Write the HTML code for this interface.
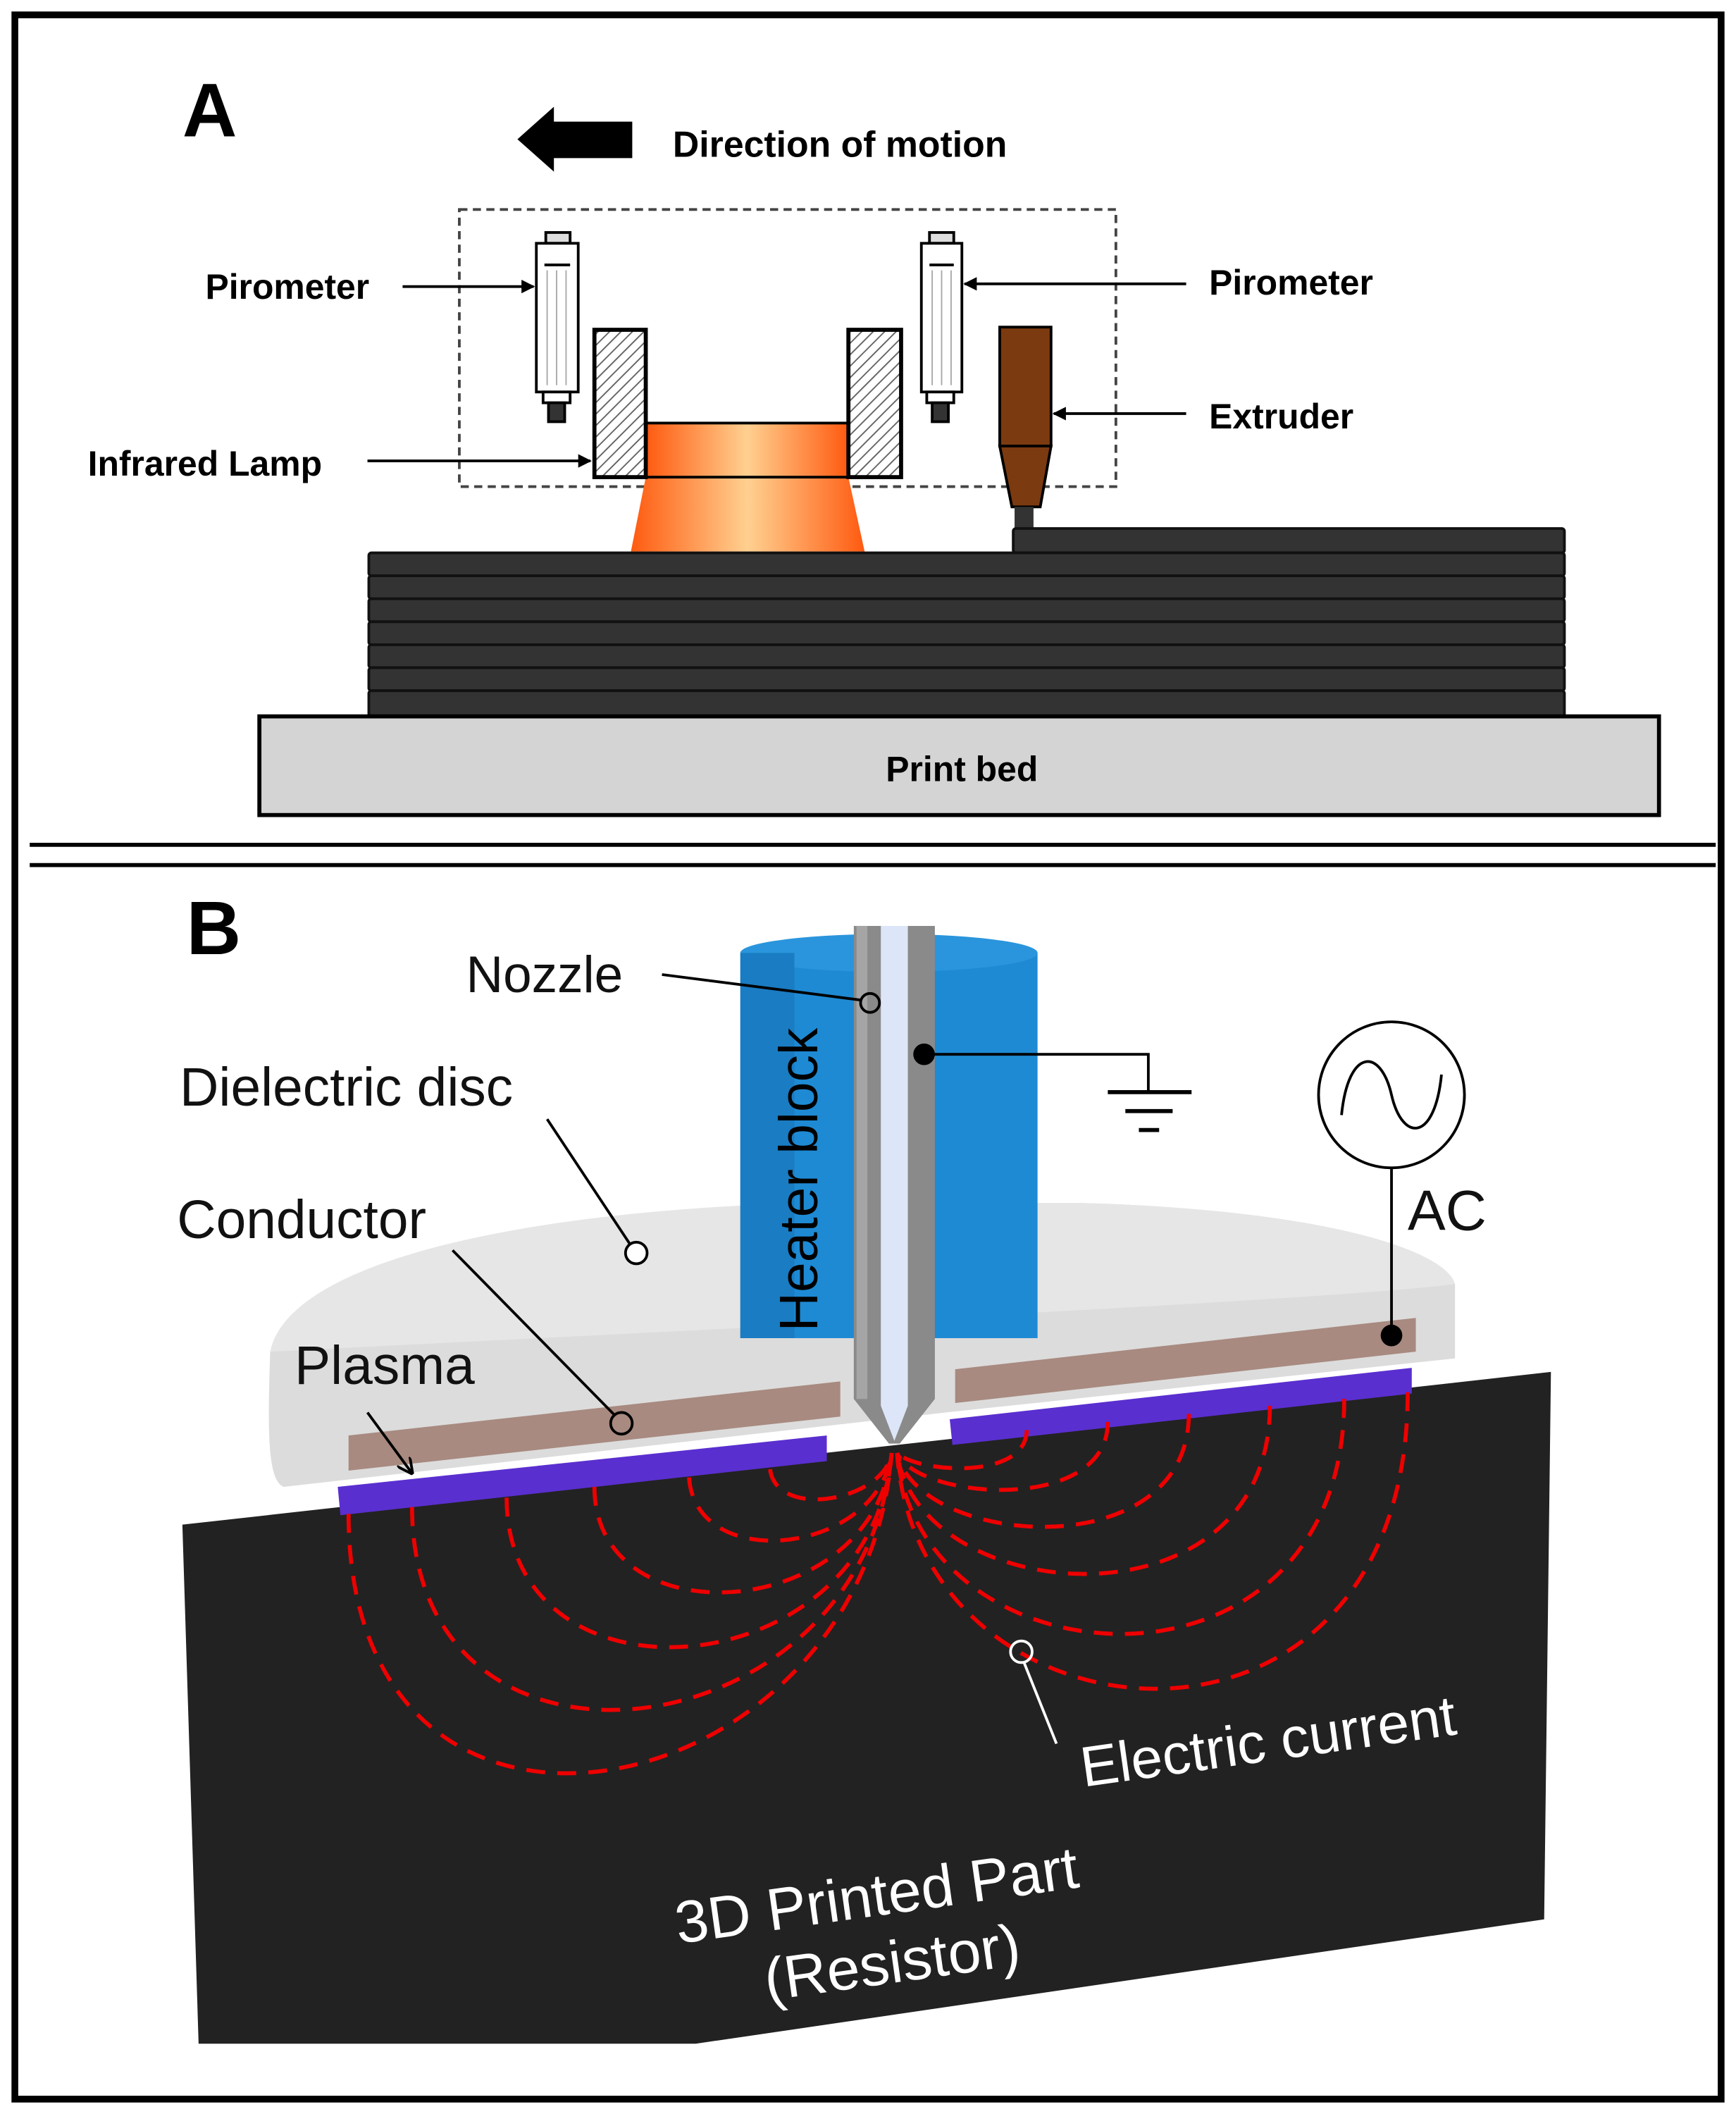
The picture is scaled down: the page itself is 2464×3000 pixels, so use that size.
<!DOCTYPE html>
<html><head><style>
html,body{margin:0;padding:0;background:#fff;}
svg{display:block;}
.a{font-family:"Liberation Sans",sans-serif;font-weight:bold;fill:#000;}
.b{font-family:"Liberation Sans",sans-serif;fill:#111;}
.w{font-family:"Liberation Sans",sans-serif;fill:#fff;}
</style></head><body>
<svg width="2464" height="3000" viewBox="0 0 1285 1564" preserveAspectRatio="none" xmlns="http://www.w3.org/2000/svg">
<defs>
<pattern id="hatch" width="6" height="6" patternUnits="userSpaceOnUse" patternTransform="rotate(45)">
<rect width="6" height="6" fill="#fff"/><line x1="0" y1="0" x2="0" y2="6" stroke="#666" stroke-width="2"/></pattern>
<linearGradient id="og" x1="0" x2="1"><stop offset="0" stop-color="#ff5a10"/><stop offset="0.5" stop-color="#ffd090"/><stop offset="1" stop-color="#ff5a10"/></linearGradient>
<marker id="ah" markerWidth="10" markerHeight="10" refX="9" refY="5" orient="auto" markerUnits="userSpaceOnUse"><path d="M0,0 L10,5 L0,10 Z" fill="#000"/></marker>
<marker id="ah2" markerWidth="12" markerHeight="12" refX="11" refY="6" orient="auto" markerUnits="userSpaceOnUse"><path d="M0,0 L12,6 L0,12" fill="none" stroke="#000" stroke-width="2"/></marker>
</defs>
<rect width="1285" height="1564" fill="#fff"/>
<rect x="11" y="11" width="1263" height="1542" fill="none" stroke="#000" stroke-width="5"/>
<line x1="22" y1="625" x2="1270" y2="625" stroke="#000" stroke-width="3"/>
<line x1="22" y1="640" x2="1270" y2="640" stroke="#000" stroke-width="3"/>

<!-- Part A -->
<text class="a" x="135" y="101" font-size="56">A</text>
<polygon points="383,103 410,79 410,90 468,90 468,117 410,117 410,127" fill="#000"/>
<text class="a" x="498" y="116" font-size="27">Direction of motion</text>
<rect x="340" y="155" width="486" height="205" fill="none" stroke="#444" stroke-width="2" stroke-dasharray="6,4"/>
<g stroke="#000" stroke-width="2">
<rect x="404" y="172" width="18" height="8" fill="#ddd"/>
<rect x="397" y="180" width="31" height="110" fill="#fff"/>
<line x1="403" y1="196" x2="422" y2="196"/>
<rect x="402" y="290" width="20" height="8" fill="#fff"/>
<rect x="406" y="298" width="12" height="14" fill="#333"/>
<rect x="688" y="172" width="18" height="8" fill="#ddd"/>
<rect x="682" y="180" width="30" height="110" fill="#fff"/>
<line x1="688" y1="196" x2="706" y2="196"/>
<rect x="686" y="290" width="20" height="8" fill="#fff"/>
<rect x="690" y="298" width="12" height="14" fill="#333"/>
</g>
<g stroke="#aaa" stroke-width="1">
<line x1="405" y1="200" x2="405" y2="285"/><line x1="412" y1="200" x2="412" y2="285"/><line x1="419" y1="200" x2="419" y2="285"/>
<line x1="690" y1="200" x2="690" y2="285"/><line x1="697" y1="200" x2="697" y2="285"/><line x1="704" y1="200" x2="704" y2="285"/>
</g>
<polygon points="478,353 628,353 640,408 467,408" fill="url(#og)"/>
<rect x="478" y="313" width="150" height="40" fill="url(#og)" stroke="#000" stroke-width="2"/>
<rect x="440" y="244" width="38" height="109" fill="url(#hatch)" stroke="#000" stroke-width="3"/>
<rect x="628" y="244" width="39" height="109" fill="url(#hatch)" stroke="#000" stroke-width="3"/>
<rect x="740" y="242" width="38" height="88" fill="#7b3a10" stroke="#000" stroke-width="2"/>
<polygon points="740,330 778,330 770,375 749,375" fill="#7b3a10" stroke="#000" stroke-width="2"/>
<rect x="751" y="375" width="14" height="33" fill="#333"/>
<rect x="750" y="391" width="408" height="18" rx="2" fill="#333" stroke="#111" stroke-width="2"/>
<g fill="#333" stroke="#111" stroke-width="2">
<rect x="273" y="409" width="885" height="17" rx="2"/>
<rect x="273" y="426" width="885" height="17" rx="2"/>
<rect x="273" y="443" width="885" height="17" rx="2"/>
<rect x="273" y="460" width="885" height="17" rx="2"/>
<rect x="273" y="477" width="885" height="17" rx="2"/>
<rect x="273" y="494" width="885" height="17" rx="2"/>
<rect x="273" y="511" width="885" height="19" rx="2"/>
</g>
<rect x="192" y="530" width="1036" height="73" fill="#d4d4d4" stroke="#000" stroke-width="3"/>
<text class="a" x="712" y="578" font-size="26" text-anchor="middle">Print bed</text>
<text class="a" x="152" y="221" font-size="26">Pirometer</text>
<line x1="298" y1="212" x2="395" y2="212" stroke="#000" stroke-width="2" marker-end="url(#ah)"/>
<text class="a" x="895" y="218" font-size="26">Pirometer</text>
<line x1="878" y1="210" x2="714" y2="210" stroke="#000" stroke-width="2" marker-end="url(#ah)"/>
<text class="a" x="895" y="317" font-size="26">Extruder</text>
<line x1="878" y1="306" x2="780" y2="306" stroke="#000" stroke-width="2" marker-end="url(#ah)"/>
<text class="a" x="65" y="352" font-size="26">Infrared Lamp</text>
<line x1="272" y1="341" x2="437" y2="341" stroke="#000" stroke-width="2" marker-end="url(#ah)"/>

<!-- Part B -->
<text class="a" x="138" y="706" font-size="56">B</text>
<polygon points="135,1128 1148,1015 1143,1420 515,1512 147,1512" fill="#222"/>
<path d="M200,1000 C215,930 400,895 600,890 L800,890 C980,895 1070,925 1077,950 L1077,1005 L700,1045 L210,1100 C198,1095 198,1060 200,1000 Z" fill="#dcdcdc"/>
<path d="M200,1000 C215,930 400,895 600,890 L800,890 C980,895 1070,925 1077,950 C1000,960 700,975 200,1000 Z" fill="#e6e6e6"/>
<polygon points="258,1062 622,1022 622,1048 258,1088" fill="#a88a80"/>
<polygon points="707,1013 1048,975 1048,1000 707,1038" fill="#a88a80"/>
<polygon points="250,1100 612,1062 612,1081 252,1121" fill="#5a2fd0"/>
<polygon points="703,1050 1045,1012 1045,1031 705,1069" fill="#5a2fd0"/>
<rect x="548" y="705" width="220" height="285" fill="#1e8ad4"/>
<ellipse cx="658" cy="705" rx="110" ry="14" fill="#2a95dc"/>
<rect x="548" y="705" width="40" height="285" fill="#1a7cc2"/>
<text class="b" transform="translate(605,985) rotate(-90)" font-size="40" style="fill:#000">Heater block</text>
<path d="M632,685 L692,685 L692,1035 L666,1068 L658,1068 L632,1035 Z" fill="#8a8a8a"/>
<rect x="634" y="685" width="8" height="350" fill="#a5a5a5"/>
<path d="M652,685 L672,685 L672,1040 L662,1066 L652,1040 Z" fill="#dde6f8"/>
<g fill="none" stroke="#e00" stroke-width="3" stroke-dasharray="14,9">
<path d="M258,1120 C258,1420 640,1340 660,1075"/>
<path d="M305,1115 C305,1340 640,1300 660,1075"/>
<path d="M375,1108 C375,1270 645,1250 660,1075"/>
<path d="M440,1100 C440,1215 648,1200 660,1075"/>
<path d="M510,1093 C515,1165 650,1150 660,1075"/>
<path d="M570,1087 C575,1125 655,1110 660,1075"/>
<path d="M1042,1030 C1042,1330 680,1300 664,1075"/>
<path d="M995,1035 C995,1270 680,1250 664,1075"/>
<path d="M940,1040 C940,1210 680,1190 664,1075"/>
<path d="M880,1046 C880,1160 680,1145 664,1075"/>
<path d="M820,1052 C820,1120 680,1110 664,1075"/>
<path d="M760,1058 C760,1095 680,1090 664,1075"/>
</g>
<text class="b" x="345" y="734" font-size="38">Nozzle</text>
<line x1="490" y1="721" x2="638" y2="740" stroke="#000" stroke-width="2"/>
<circle cx="644" cy="742" r="7" fill="none" stroke="#000" stroke-width="2"/>
<circle cx="684" cy="780" r="8" fill="#000"/>
<polyline points="684,780 850,780 850,808" fill="none" stroke="#000" stroke-width="2"/>
<line x1="820" y1="808" x2="882" y2="808" stroke="#000" stroke-width="3"/>
<line x1="833" y1="822" x2="868" y2="822" stroke="#000" stroke-width="3"/>
<line x1="843" y1="836" x2="858" y2="836" stroke="#000" stroke-width="3"/>
<circle cx="1030" cy="810" r="54" fill="#fff" stroke="#000" stroke-width="2"/>
<path d="M993,825 C998,775 1022,775 1030,810 C1038,845 1062,845 1067,795" fill="none" stroke="#000" stroke-width="2"/>
<line x1="1030" y1="864" x2="1030" y2="988" stroke="#000" stroke-width="2"/>
<circle cx="1030" cy="988" r="8" fill="#000"/>
<text class="b" x="1042" y="910" font-size="42">AC</text>
<text class="b" x="133" y="818" font-size="40">Dielectric disc</text>
<line x1="405" y1="828" x2="466" y2="920" stroke="#000" stroke-width="2"/>
<circle cx="471" cy="927" r="8" fill="#fff" stroke="#000" stroke-width="2"/>
<text class="b" x="131" y="916" font-size="40">Conductor</text>
<line x1="335" y1="925" x2="455" y2="1047" stroke="#000" stroke-width="2"/>
<circle cx="460" cy="1053" r="8" fill="none" stroke="#000" stroke-width="2"/>
<text class="b" x="218" y="1024" font-size="40">Plasma</text>
<line x1="272" y1="1045" x2="305" y2="1090" stroke="#000" stroke-width="2" marker-end="url(#ah2)"/>
<circle cx="756" cy="1222" r="8" fill="none" stroke="#fff" stroke-width="2"/>
<line x1="758" y1="1230" x2="782" y2="1290" stroke="#fff" stroke-width="2"/>
<text class="w" transform="translate(802,1322) rotate(-8)" font-size="42">Electric current</text>
<text class="w" transform="translate(502,1438) rotate(-8)" font-size="44">3D Printed Part</text>
<text class="w" transform="translate(568,1480) rotate(-8)" font-size="44">(Resistor)</text>
</svg>
</body></html>
